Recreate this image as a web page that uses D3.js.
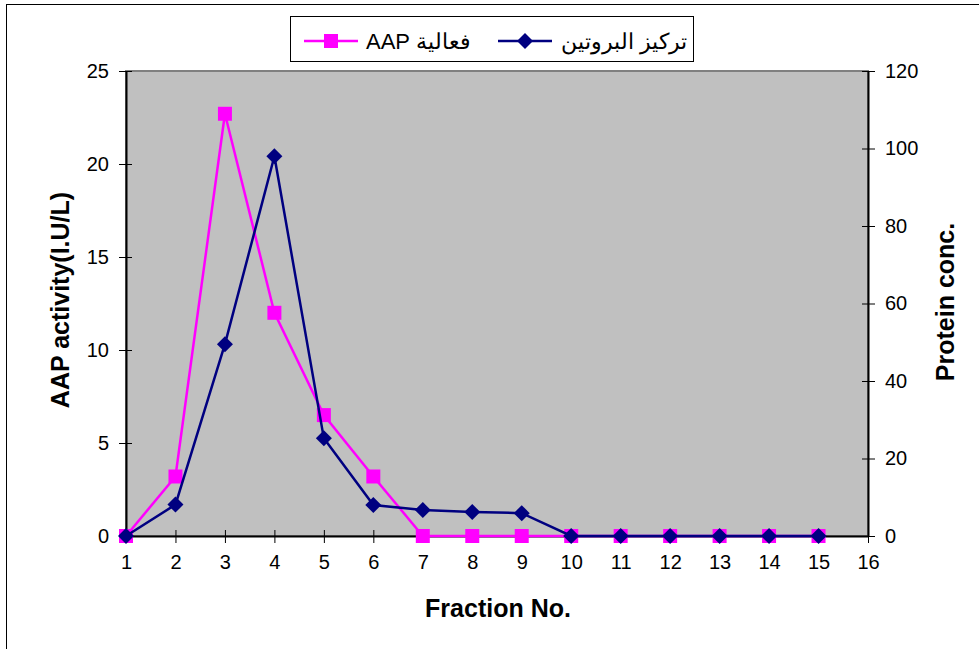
<!DOCTYPE html>
<html>
<head>
<meta charset="utf-8">
<script src="https://cdn.jsdelivr.net/npm/d3@7"></script>
<style>
  html, body { margin: 0; padding: 0; background: #fff; }
  svg { display: block; font-family: Arial, "Liberation Sans", sans-serif; }
</style>
</head>
<body>
<svg id="chart" width="979" height="649"></svg>
<script>
// ---- data ----
const fractions = [1, 2, 3, 4, 5, 6, 7, 8, 9, 10, 11, 12, 13, 14, 15];
const aapActivity = [0, 3.2, 22.7, 12, 6.5, 3.2, 0, 0, 0, 0, 0, 0, 0, 0, 0];
const proteinConc = [0, 8.1, 49.5, 98, 25.2, 8, 6.7, 6.2, 5.9, 0, 0, 0, 0, 0, 0];
const xTicks = [1, 2, 3, 4, 5, 6, 7, 8, 9, 10, 11, 12, 13, 14, 15, 16];
const yLeftTicks = [0, 5, 10, 15, 20, 25];
const yRightTicks = [0, 20, 40, 60, 80, 100, 120];
const seriesNames = ["AAP فعالية", "تركيز البروتين"];
const xTitle = "Fraction No.";
const yLeftTitle = "AAP activity(I.U/L)";
const yRightTitle = "Protein conc.";

// ---- layout ----
const svg = d3.select("#chart");
const plot = { left: 126, right: 868, top: 71, bottom: 536 };
const pink = "#FF00FF", navy = "#000080";

const x = d3.scaleLinear().domain([1, 16]).range([plot.left, plot.right]);
const yL = d3.scaleLinear().domain([0, 25]).range([plot.bottom, plot.top]);
const yR = d3.scaleLinear().domain([0, 120]).range([plot.bottom, plot.top]);

// outer chart border
svg.append("rect").attr("x", 6.5).attr("y", 4.5).attr("width", 1000).attr("height", 700)
  .attr("fill", "#fff").attr("stroke", "#000").attr("stroke-width", 1);

// plot area
svg.append("rect").attr("x", plot.left).attr("y", plot.top)
  .attr("width", plot.right - plot.left).attr("height", plot.bottom - plot.top)
  .attr("fill", "#C0C0C0").attr("stroke", "#808080").attr("stroke-width", 2);

// axes
function styleAxis(g) {
  g.selectAll(".domain").attr("stroke", "#000").attr("stroke-width", 2);
  g.selectAll(".tick line").attr("stroke", "#000").attr("stroke-width", 1);
  g.selectAll(".tick text").attr("font-size", 20).attr("fill", "#000")
    .attr("font-family", "Arial, 'Liberation Sans', sans-serif");
}
const xAxis = svg.append("g").attr("transform", `translate(0,${plot.bottom})`)
  .call(d3.axisBottom(x).tickValues(xTicks).tickFormat(d3.format("d")).tickSize(7).tickSizeOuter(0).tickPadding(12));
styleAxis(xAxis);
xAxis.selectAll(".tick line").attr("y1", -6);

const yAxisL = svg.append("g").attr("transform", `translate(${plot.left},0)`)
  .call(d3.axisLeft(yL).tickValues(yLeftTicks).tickSize(7).tickSizeOuter(0).tickPadding(10));
styleAxis(yAxisL);
yAxisL.selectAll(".tick line").attr("x1", 6);

const yAxisR = svg.append("g").attr("transform", `translate(${plot.right},0)`)
  .call(d3.axisRight(yR).tickValues(yRightTicks).tickSize(7).tickSizeOuter(0).tickPadding(10));
styleAxis(yAxisR);
yAxisR.selectAll(".tick line").attr("x1", -6);

// titles
svg.append("text").attr("x", 498).attr("y", 617).attr("text-anchor", "middle")
  .attr("font-size", 25).attr("font-weight", "bold").text(xTitle);
svg.append("text").attr("transform", "translate(69,300) rotate(-90)").attr("text-anchor", "middle")
  .attr("font-size", 25).attr("font-weight", "bold").text(yLeftTitle);
svg.append("text").attr("transform", "translate(954,302) rotate(-90)").attr("text-anchor", "middle")
  .attr("font-size", 25).attr("font-weight", "bold").text(yRightTitle);

// series
const squarePath = s => `M${-s},${-s}H${s}V${s}H${-s}Z`;
const diamondPath = (w, h) => `M0,${-h}L${w},0L0,${h}L${-w},0Z`;

const pts = (vals, ys) => fractions.map((f, i) => [x(f), ys(vals[i])]);

svg.append("path").attr("d", d3.line()(pts(aapActivity, yL)))
  .attr("fill", "none").attr("stroke", pink).attr("stroke-width", 2.5);
svg.append("g").selectAll("path").data(pts(aapActivity, yL)).join("path")
  .attr("transform", d => `translate(${d[0]},${d[1]})`).attr("d", squarePath(7)).attr("fill", pink);

svg.append("path").attr("d", d3.line()(pts(proteinConc, yR)))
  .attr("fill", "none").attr("stroke", navy).attr("stroke-width", 2.5);
svg.append("g").selectAll("path").data(pts(proteinConc, yR)).join("path")
  .attr("transform", d => `translate(${d[0]},${d[1]})`).attr("d", diamondPath(8, 8)).attr("fill", navy);

// legend
const leg = svg.append("g");
leg.append("rect").attr("x", 290.5).attr("y", 16.5).attr("width", 403).attr("height", 45)
  .attr("fill", "#fff").attr("stroke", "#000").attr("stroke-width", 1);
const ly = 41;
leg.append("line").attr("x1", 304).attr("x2", 358).attr("y1", ly).attr("y2", ly).attr("stroke", pink).attr("stroke-width", 2.5);
leg.append("path").attr("transform", `translate(331,${ly})`).attr("d", squarePath(7)).attr("fill", pink);
leg.append("text").attr("x", 366).attr("y", ly + 8).attr("font-size", 22).attr("direction", "ltr").text(seriesNames[0]);
leg.append("line").attr("x1", 498).attr("x2", 552).attr("y1", ly).attr("y2", ly).attr("stroke", navy).attr("stroke-width", 2.5);
leg.append("path").attr("transform", `translate(525,${ly})`).attr("d", diamondPath(8, 8)).attr("fill", navy);
leg.append("text").attr("x", 687).attr("y", ly + 8).attr("font-size", 22).attr("text-anchor", "end").text(seriesNames[1]);
</script>
</body>
</html>
